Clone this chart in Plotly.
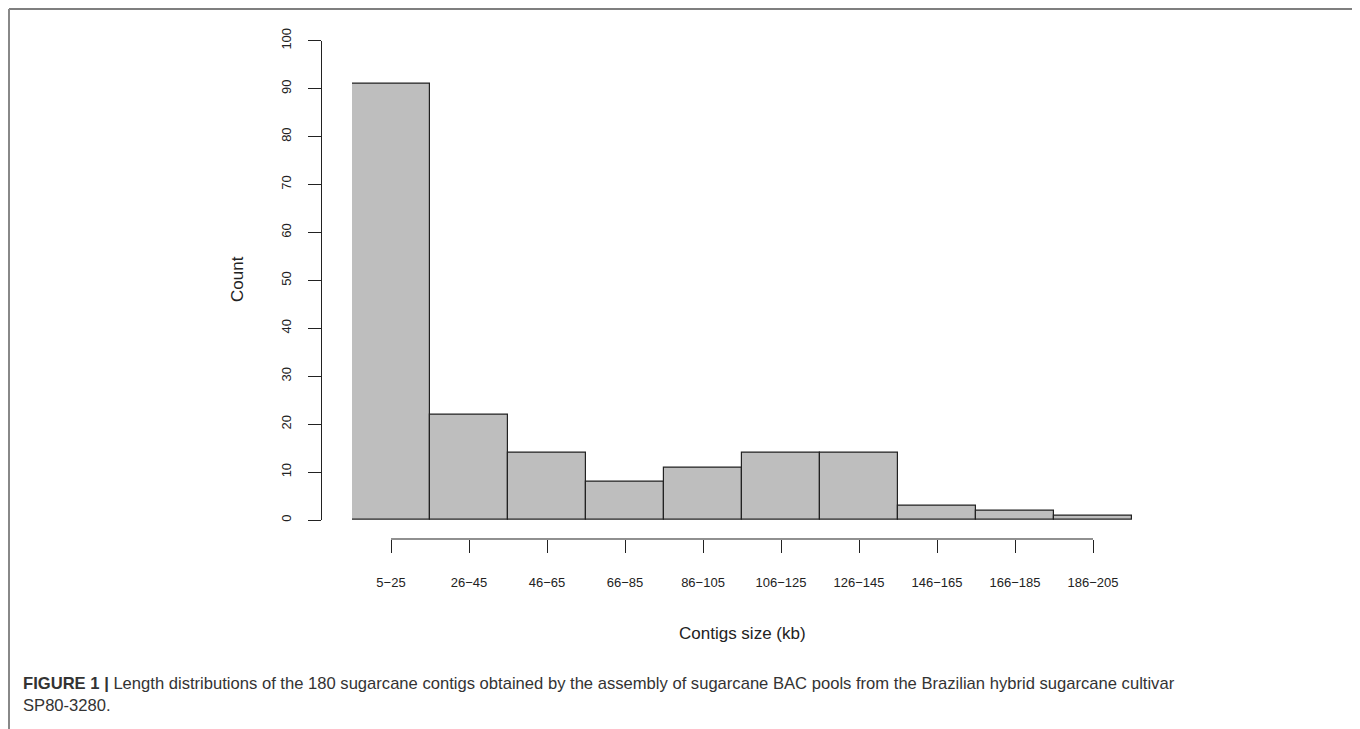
import plotly.graph_objects as go

categories = ["5\u221225", "26\u221245", "46\u221265", "66\u221285", "86\u2212105",
              "106\u2212125", "126\u2212145", "146\u2212165", "166\u2212185", "186\u2212205"]
counts = [91, 22, 14, 8, 11, 14, 14, 3, 2, 1]
y_ticks = list(range(0, 101, 10))

W, H = 1360, 729
OFF = 8  # page body margin
FONT = "Liberation Sans, Arial, Helvetica, sans-serif"

def px(x):
    return (x - OFF) / W

def py(y):
    return (H - (y - OFF)) / H

x_axis_pos = py(539)

fig = go.Figure()
fig.add_trace(go.Bar(
    x=categories, y=counts, width=1,
    marker=dict(color="#bebebe", line=dict(color="#222222", width=1.2)),
    hoverinfo="x+y", showlegend=False,
))

fig.update_layout(
    width=W, height=H,
    margin=dict(l=0, r=0, t=0, b=0, autoexpand=False),
    paper_bgcolor="white", plot_bgcolor="white",
    bargap=0,
    font=dict(family=FONT, color="#222222"),
    xaxis=dict(
        domain=[px(352), px(1132)],
        type="category", range=[-0.5, len(categories) - 0.5],
        anchor="free", position=x_axis_pos, automargin=False,
        showline=False, showgrid=False, zeroline=False,
        ticks="outside", ticklen=13, tickwidth=1.2, tickcolor="#222222",
        tickfont=dict(size=13, color="#222222"),
        ticklabelstandoff=18,
    ),
    yaxis=dict(
        domain=[py(520), py(40.7)],
        range=[0, 100], tickvals=y_ticks,
        anchor="free", position=px(321), automargin=False,
        showline=True, linecolor="#222222", linewidth=1.2,
        showgrid=False, zeroline=False,
        ticks="outside", ticklen=13, tickwidth=1.2, tickcolor="#222222",
        tickangle=-90,
        tickfont=dict(size=13, color="#222222"),
        ticklabelstandoff=12,
    ),
)

# x axis line spanning first to last tick (R style)
fig.add_shape(type="line", xref="x", yref="paper",
              x0=0, x1=len(categories) - 1, y0=x_axis_pos, y1=x_axis_pos,
              line=dict(color="#222222", width=1.2))

# axis titles
fig.add_annotation(text="Contigs size (kb)", xref="paper", yref="paper",
                   x=px(742), y=py(633), showarrow=False,
                   xanchor="center", yanchor="middle",
                   font=dict(size=17, color="#222222"))
fig.add_annotation(text="Count", xref="paper", yref="paper",
                   x=px(237), y=py(279), showarrow=False, textangle=-90,
                   xanchor="center", yanchor="middle",
                   font=dict(size=17, color="#222222"))

# frame
top_y = py(9)
fig.add_shape(type="line", xref="paper", yref="paper",
              x0=px(9), x1=px(1356), y0=top_y, y1=top_y,
              line=dict(color="#555555", width=1.5))
fig.add_shape(type="line", xref="paper", yref="paper",
              x0=px(9), x1=px(9), y0=top_y, y1=-0.05,
              line=dict(color="#888888", width=2))
fig.add_shape(type="line", xref="paper", yref="paper",
              x0=px(1356), x1=px(1356), y0=top_y, y1=-0.05,
              line=dict(color="#888888", width=2))

# caption
fig.add_annotation(
    text="<b>FIGURE 1 |</b> Length distributions of the 180 sugarcane contigs obtained by the assembly of sugarcane BAC pools from the Brazilian hybrid sugarcane cultivar",
    xref="paper", yref="paper", x=px(21), y=py(683), showarrow=False,
    xanchor="left", yanchor="middle", align="left",
    font=dict(size=16.6, color="#333333"))
fig.add_annotation(
    text="SP80-3280.",
    xref="paper", yref="paper", x=px(21), y=py(705), showarrow=False,
    xanchor="left", yanchor="middle", align="left",
    font=dict(size=16.6, color="#333333"))

fig.write_html("out.html")
